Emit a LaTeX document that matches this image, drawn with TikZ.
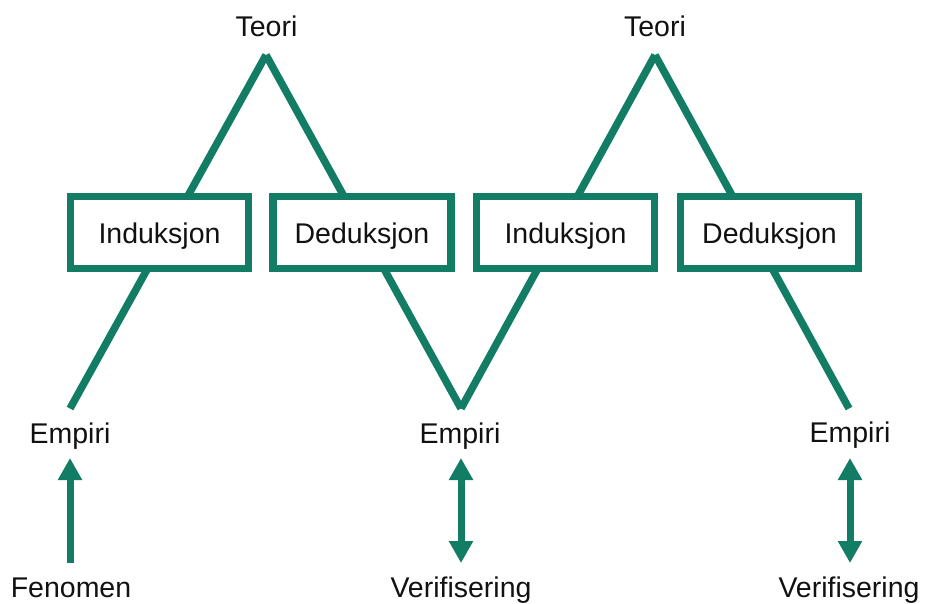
\documentclass[tikz,border=0pt]{standalone}
\usepackage{fontspec}
\setmainfont{Liberation Sans}
\usetikzlibrary{arrows.meta}

\definecolor{stemgreen}{RGB}{19,124,101}
\definecolor{inkblack}{RGB}{17,17,17}

\begin{document}
\begin{tikzpicture}[x=1pt,y=-1pt,
  link/.style={draw=stemgreen, line width=7.5pt, line cap=butt},
  method/.style={draw=stemgreen, line width=7.5pt, fill=white,
    minimum width=178pt, minimum height=72pt, inner sep=0pt,
    text height=21pt, text depth=0pt, text=inkblack,
    font=\fontsize{28.5}{30}\selectfont},
  term/.style={inner sep=0pt, anchor=base, text=inkblack,
    font=\fontsize{28.5}{30}\selectfont},
  flow/.style={draw=stemgreen, line width=7pt, -{Triangle[width=23pt,length=22pt]}},
  twoway/.style={draw=stemgreen, line width=7pt,
    {Triangle[width=23pt,length=22pt]}-{Triangle[width=23pt,length=22pt]}},
]
\useasboundingbox (0,0) rectangle (925,603);

% peaks of the two theory triangles and the empirical end points
\coordinate (apexA) at (266,55);
\coordinate (apexB) at (655,55);
\coordinate (baseA) at (70,408.5);
\coordinate (baseB) at (461,408.5);
\coordinate (baseC) at (849,408.5);

% reasoning lines (boxes are drawn over them)
\draw[link] (apexA) -- (baseA);
\draw[link] (apexA) -- (baseB);
\draw[link] (baseB) -- (apexB);
\draw[link] (apexB) -- (baseC);

% method boxes
\node[method] (ind1) at (159.5,232.5) {Induksjon};
\node[method] (ded1) at (362,232.5) {Deduksjon};
\node[method] (ind2) at (565.5,232.5) {Induksjon};
\node[method] (ded2) at (769.5,232.5) {Deduksjon};

% labels
\node[term] (teo1) at (266.5,36) {Teori};
\node[term] (teo2) at (655,36) {Teori};
\node[term] (emp1) at (70,443) {Empiri};
\node[term] (emp2) at (460,443) {Empiri};
\node[term] (emp3) at (850,442) {Empiri};
\node[term] (fen)  at (71,597.5) {Fenomen};
\node[term] (ver1) at (461,597.5) {Verifisering};
\node[term] (ver2) at (849,597.5) {Verifisering};

% arrow ends between the lower labels
\coordinate (fenTop) at (70,563);
\coordinate (emp1Low) at (70,458);
\coordinate (ver1Top) at (461,563);
\coordinate (emp2Low) at (461,458);
\coordinate (ver2Top) at (850,563);
\coordinate (emp3Low) at (850,458);

\draw[flow] (fenTop) -- (emp1Low);
\draw[twoway] (ver1Top) -- (emp2Low);
\draw[twoway] (ver2Top) -- (emp3Low);
\end{tikzpicture}
\end{document}
